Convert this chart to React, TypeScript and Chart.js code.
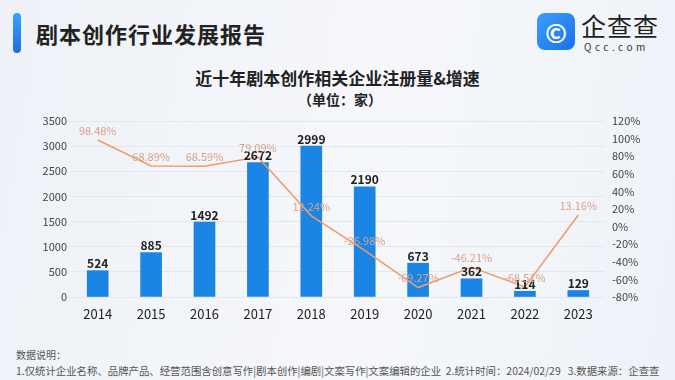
import React, { useEffect, useRef } from "react";
import { Chart, registerables } from "chart.js";

Chart.register(...registerables);

const years = ["2014", "2015", "2016", "2017", "2018", "2019", "2020", "2021", "2022", "2023"];
const registrations = [524, 885, 1492, 2672, 2999, 2190, 673, 362, 114, 129];
const growthRates = [98.48, 68.89, 68.59, 79.09, 12.24, -26.98, -69.27, -46.21, -68.51, 13.16];
const leftTicks = [0, 3500, 500];
const rightTicks = [-80, 120, 20];

const FONT = '"Noto Sans CJK SC", "Noto Sans", sans-serif';

const labelPlugin = {
  id: "valueLabels",
  afterDatasetsDraw(chart: any) {
    const ctx = chart.ctx;
    ctx.save();
    ctx.textAlign = "center";
    ctx.textBaseline = "bottom";
    const barMeta = chart.getDatasetMeta(0);
    ctx.font = `bold 12px ${FONT}`;
    ctx.fillStyle = "#222";
    barMeta.data.forEach((el: any, i: number) => {
      ctx.fillText(String(registrations[i]), el.x, el.y - 1);
    });
    const lineMeta = chart.getDatasetMeta(1);
    ctx.font = `11px ${FONT}`;
    ctx.fillStyle = "#d9a285";
    lineMeta.data.forEach((el: any, i: number) => {
      ctx.fillText(growthRates[i].toFixed(2) + "%", el.x, el.y - 4);
    });
    ctx.restore();
  },
};

export default function App() {
  const ref = useRef<HTMLCanvasElement>(null);
  useEffect(() => {
    if (!ref.current) return;
    const chart = new Chart(ref.current, {
      type: "bar",
      data: {
        labels: years,
        datasets: [
          {
            type: "bar",
            data: registrations,
            backgroundColor: "#1b85e6",
            barThickness: 21,
            yAxisID: "y",
            order: 2,
          },
          {
            type: "line",
            data: growthRates,
            borderColor: "#ee9c68",
            borderWidth: 1.6,
            pointRadius: 0,
            tension: 0,
            yAxisID: "y1",
            order: 1,
          } as any,
        ],
      },
      options: {
        responsive: false,
        animation: false,
        layout: { padding: { top: 61, left: 0, right: 0, bottom: 0 } },
        plugins: { legend: { display: false }, tooltip: { enabled: false }, title: { display: false } },
        scales: {
          x: {
            grid: { display: false, drawTicks: false },
            border: { display: false },
            ticks: { color: "#222", font: { family: FONT, size: 13 }, padding: 9 },
            afterFit: (s: any) => { s.height = 43; },
          },
          y: {
            position: "left",
            min: leftTicks[0],
            max: leftTicks[1],
            ticks: {
              stepSize: leftTicks[2],
              color: "#444",
              font: { family: FONT, size: 11 },
              padding: 4,
              callback: (v: any) => String(v),
            },
            grid: { color: "#e2e6ee", drawTicks: false },
            border: { display: false },
            afterFit: (s: any) => { s.width = 71; },
          },
          y1: {
            position: "right",
            min: rightTicks[0],
            max: rightTicks[1],
            ticks: {
              stepSize: rightTicks[2],
              color: "#444",
              font: { family: FONT, size: 11 },
              padding: 7,
              callback: (v: any) => v + "%",
            },
            grid: { display: false, drawTicks: false },
            border: { display: false },
            afterFit: (s: any) => { s.width = 70; },
          },
        },
      },
      plugins: [labelPlugin],
    });
    return () => chart.destroy();
  }, []);

  return (
    <div
      style={{
        position: "absolute",
        left: 0,
        top: 0,
        width: 675,
        height: 380,
        overflow: "hidden",
        fontFamily: FONT,
        background: "linear-gradient(100deg, #eef1f7 0%, #f5f7fb 55%, #eef2f8 100%)",
      }}
    >
      <div
        style={{
          position: "absolute",
          left: 13,
          top: 13,
          width: 8,
          height: 40,
          borderRadius: 4,
          background: "linear-gradient(180deg, #3aa0ff, #1a6fe0)",
        }}
      />
      <div
        style={{
          position: "absolute",
          left: 36,
          top: 18,
          fontSize: 22,
          fontWeight: 700,
          color: "#222",
          lineHeight: "30px",
          letterSpacing: 1,
        }}
      >
        剧本创作行业发展报告
      </div>
      <div
        style={{
          position: "absolute",
          left: 537,
          top: 13,
          width: 38,
          height: 37,
          borderRadius: 8,
          background: "linear-gradient(135deg, #3b9dff, #1a72e8)",
          color: "#fff",
          fontSize: 26,
          fontWeight: 700,
          lineHeight: "37px",
          textAlign: "center",
        }}
      >
        ©
      </div>
      <div
        style={{
          position: "absolute",
          left: 581,
          top: 10,
          fontSize: 25,
          color: "#222",
          lineHeight: "30px",
          letterSpacing: 1,
        }}
      >
        企查查
      </div>
      <div
        style={{
          position: "absolute",
          left: 584,
          top: 40,
          fontSize: 10,
          color: "#333",
          lineHeight: "14px",
          letterSpacing: 3.5,
        }}
      >
        Qcc.com
      </div>
      <div
        style={{
          position: "absolute",
          left: 0,
          width: 675,
          top: 66,
          textAlign: "center",
          fontSize: 17,
          fontWeight: 700,
          color: "#222",
          lineHeight: "24px",
        }}
      >
        近十年剧本创作相关企业注册量&amp;增速
      </div>
      <div
        style={{
          position: "absolute",
          left: 0,
          width: 680,
          top: 89,
          textAlign: "center",
          fontSize: 14,
          fontWeight: 700,
          color: "#222",
          lineHeight: "20px",
        }}
      >
        （单位：家）
      </div>
      <canvas
        ref={ref}
        width={675}
        height={280}
        style={{ position: "absolute", left: 0, top: 60, width: 675, height: 280 }}
      />
      <div
        style={{
          position: "absolute",
          left: 16,
          top: 348,
          fontSize: 10,
          color: "#555",
          lineHeight: "14px",
        }}
      >
        数据说明：
      </div>
      <div
        style={{
          position: "absolute",
          left: 16,
          top: 364,
          fontSize: 10.4,
          color: "#555",
          lineHeight: "14px",
          whiteSpace: "pre",
        }}
      >
        1.仅统计企业名称、品牌产品、经营范围含创意写作|剧本创作|编剧|文案写作|文案编辑的企业  2.统计时间：2024/02/29   3.数据来源：企查查
      </div>
    </div>
  );
}
